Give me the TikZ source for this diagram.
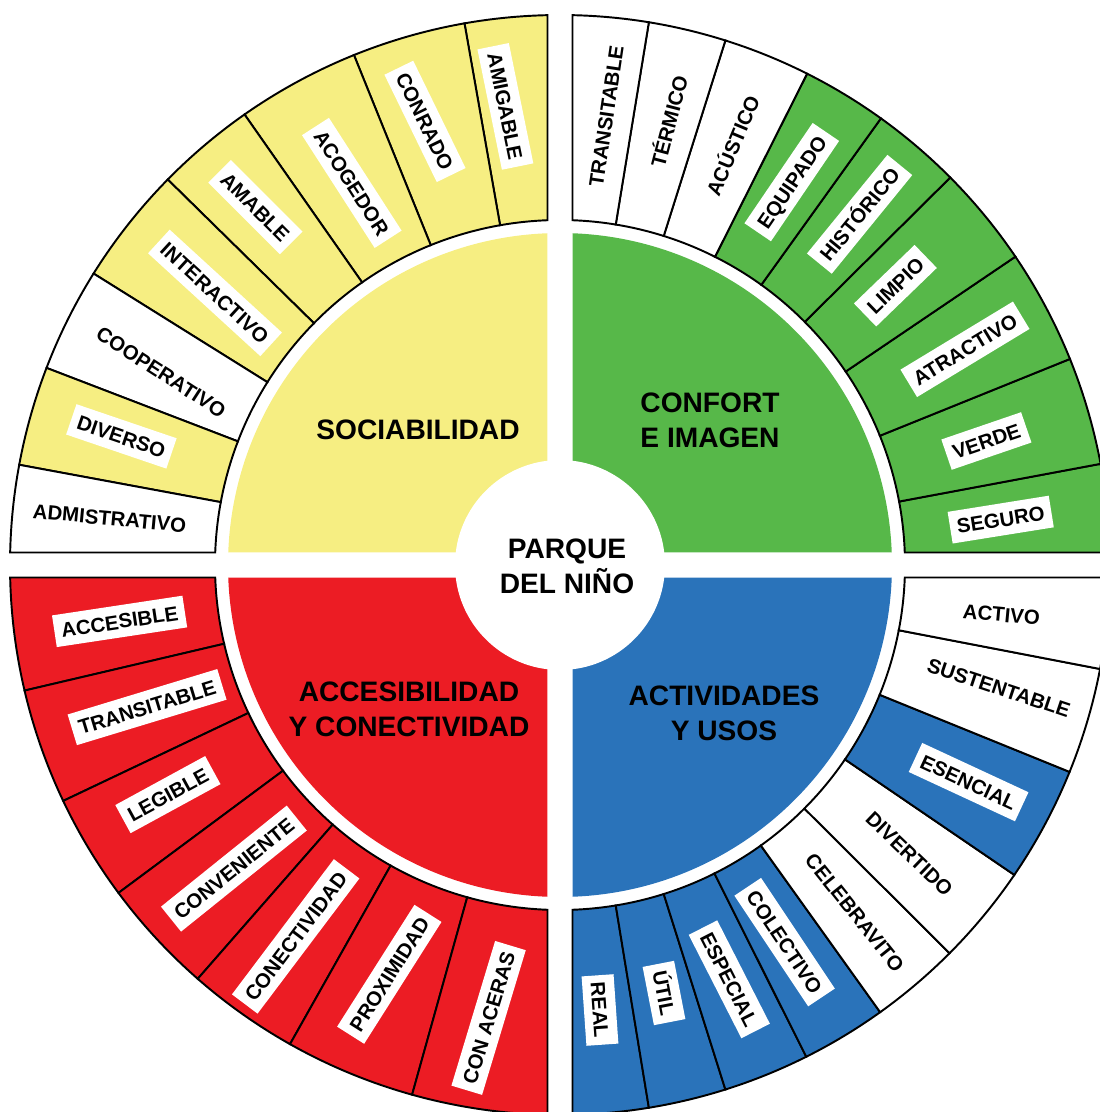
\documentclass[tikz,border=0pt]{standalone}
\usepackage{fontspec}
\setmainfont{Liberation Sans}

\definecolor{socyellow}{HTML}{F6EE82}
\definecolor{confgreen}{HTML}{57B849}
\definecolor{accred}{HTML}{EC1C24}
\definecolor{actblue}{HTML}{2A73BA}

\begin{document}
\begin{tikzpicture}[x=0.01cm, y=0.01cm]
    \tikzset{
        ring/.style={draw=black, line width=0.55pt},
        tag/.style={
            fill=white, inner xsep=0.07cm, inner ysep=0.085cm,
            text height=0.15cm, text depth=0cm,
            font=\bfseries\fontsize{5.8}{7}\selectfont,
        },
        plain/.style={tag, fill=none},
        title/.style={font=\bfseries\fontsize{8}{10}\selectfont, align=center},
    }

    \useasboundingbox (-560,-547) rectangle (539,565);

    % Quadrants
    \fill[socyellow] (-12.5,12.5) -- (92.16:332) arc[start angle=92.16, end angle=177.84, radius=332] -- cycle;
    \fill[confgreen] (12.5,12.5) -- (2.16:332) arc[start angle=2.16, end angle=87.84, radius=332] -- cycle;
    \fill[accred] (-12.5,-12.5) -- (182.16:332) arc[start angle=182.16, end angle=267.84, radius=332] -- cycle;
    \fill[actblue] (12.5,-12.5) -- (272.16:332) arc[start angle=272.16, end angle=357.84, radius=332] -- cycle;
    \fill[white] (0,0) circle (105);

    % Sociabilidad ring
    \foreach \ao/\ai/\bo/\bi/\col in {91.30/92.08/100/100/socyellow, 100/100/112/112/socyellow,
        112/112/125/125/socyellow, 125/125/135.5/135.5/socyellow, 135.5/135.5/148/148/socyellow,
        148/148/159/159/white, 159/159/169.5/169.5/socyellow, 169.5/169.5/178.70/177.92/white}
        \filldraw[ring, fill=\col] (\ai:345) -- (\ao:550) arc[start angle=\ao, end angle=\bo, radius=550]
            -- (\bi:345) arc[start angle=\bi, end angle=\ai, radius=345] -- cycle;

    % Confort ring
    \foreach \ao/\ai/\bo/\bi/\col in {1.30/2.08/10.6/10.6/confgreen, 10.6/10.6/22/22/confgreen,
        22/22/34.1/34.1/confgreen, 34.1/34.1/44.8/44.8/confgreen, 44.8/44.8/54.3/54.3/confgreen,
        54.3/54.3/63.3/63.3/confgreen, 63.3/63.3/72.5/72.5/white, 72.5/72.5/80.7/80.7/white,
        80.7/80.7/88.70/87.92/white}
        \filldraw[ring, fill=\col] (\ai:345) -- (\ao:550) arc[start angle=\ao, end angle=\bo, radius=550]
            -- (\bi:345) arc[start angle=\bi, end angle=\ai, radius=345] -- cycle;

    % Accesibilidad ring
    \foreach \ao/\ai/\bo/\bi/\col in {181.30/182.08/193.2/193.2/accred, 193.2/193.2/205.4/205.4/accred,
        205.4/205.4/216.6/216.6/accred, 216.6/216.6/228.8/228.8/accred, 228.8/228.8/240.6/240.6/accred,
        240.6/240.6/254.4/254.4/accred, 254.4/254.4/268.70/267.92/accred}
        \filldraw[ring, fill=\col] (\ai:345) -- (\ao:550) arc[start angle=\ao, end angle=\bo, radius=550]
            -- (\bi:345) arc[start angle=\bi, end angle=\ai, radius=345] -- cycle;

    % Actividades ring
    \foreach \ao/\ai/\bo/\bi/\col in {271.30/272.08/279.3/279.3/actblue, 279.3/279.3/287.5/287.5/actblue,
        287.5/287.5/296.6/296.6/actblue, 296.6/296.6/305.6/305.6/actblue, 305.6/305.6/315.1/315.1/white,
        315.1/315.1/325.7/325.7/white, 325.7/325.7/337.9/337.9/actblue, 337.9/337.9/349.1/349.1/white,
        349.1/349.1/358.70/357.92/white}
        \filldraw[ring, fill=\col] (\ai:345) -- (\ao:550) arc[start angle=\ao, end angle=\bo, radius=550]
            -- (\bi:345) arc[start angle=\bi, end angle=\ai, radius=345] -- cycle;

    % Labels on coloured segments
    \foreach \name/\x/\y/\rot/\txt in {
        amigable/-54.6/458.6/-78.5/AMIGABLE, conrado/-135/443.6/-64/CONRADO,
        acogedor/-208.2/382.1/-57.2/ACOGEDOR, amable/-304.6/357.9/-45/AMABLE,
        interactivo/-345/272.1/-42.5/INTERACTIVO, diverso/-438.6/128.6/-18.8/DIVERSO,
        equipado/231.8/382.9/55.8/EQUIPADO, historico/299.6/350.7/50.8/HISTÓRICO,
        limpio/335.4/279.3/44/LIMPIO, atractivo/405/215.7/31.2/ATRACTIVO,
        verde/426.4/124/18.9/VERDE, seguro/440.7/45.4/9.1/SEGURO,
        accesible/-440.4/-56.4/8.6/ACCESIBLE, transitable-a/-412.9/-142.1/16.9/TRANSITABLE,
        legible/-392.1/-229.6/28.6/LEGIBLE, conveniente/-326.1/-303.6/38.8/CONVENIENTE,
        conectividad/-264.3/-371.4/53/CONECTIVIDAD, proximidad/-170.7/-409.3/57.6/PROXIMIDAD,
        aceras/-71.4/-452.9/73.2/CON ACERAS,
        esencial/408.6/-217.1/-24.9/ESENCIAL, colectivo/224.6/-377.1/-56.3/COLECTIVO,
        especial/169.3/-414.3/-63/ESPECIAL, util/104/-428/-79/ÚTIL, real/40/-445/-86/REAL}
        \node[tag, rotate=\rot] (\name) at (\x,\y) {\txt};

    % Labels on white segments
    \foreach \name/\x/\y/\rot/\txt in {
        cooperativo/-398.6/192.9/-32.8/COOPERATIVO, admistrativo/-450.4/47.1/-5.3/ADMISTRATIVO,
        transitable-c/46/449/81.5/TRANSITABLE, termico/109.3/443.6/75.4/TÉRMICO,
        acustico/172.9/419.3/67.2/ACÚSTICO,
        activo/441.4/-49.3/-5.3/ACTIVO, sustentable/438.9/-122.5/-18.4/SUSTENTABLE,
        divertido/349.6/-288.6/-43.7/DIVERTIDO, celebravito/295/-347.5/-51.2/CELEBRAVITO}
        \node[plain, rotate=\rot] (\name) at (\x,\y) {\txt};

    % Titles
    \node[title] (parque) at (7,-1) {PARQUE\\DEL NIÑO};
    \node[title] (sociab) at (-142,135) {SOCIABILIDAD};
    \node[title] (confort) at (150,145) {CONFORT\\E IMAGEN};
    \node[title] (accesib) at (-151,-144) {ACCESIBILIDAD\\Y CONECTIVIDAD};
    \node[title] (activ) at (164,-148) {ACTIVIDADES\\Y USOS};
\end{tikzpicture}
\end{document}
